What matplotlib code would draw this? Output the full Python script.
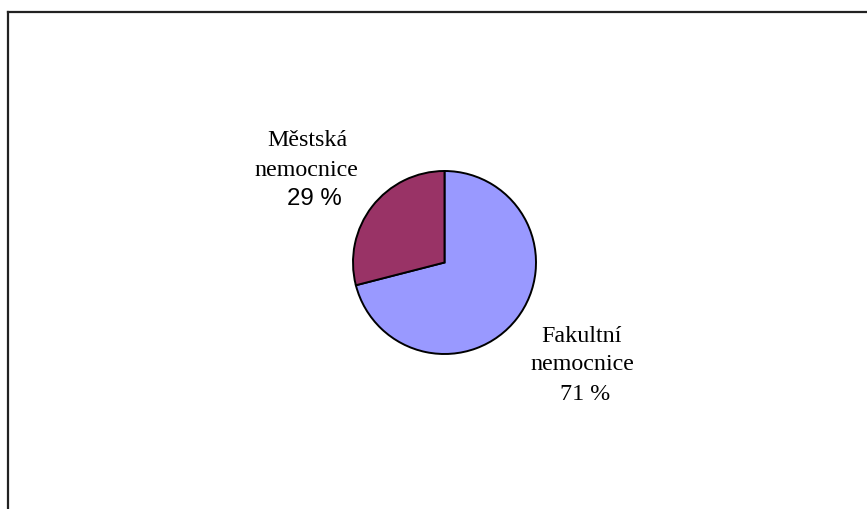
import matplotlib
matplotlib.use("Agg")
import matplotlib.pyplot as plt
from matplotlib.lines import Line2D

# data
categories = ["Fakultní nemocnice", "Městská nemocnice"]
values = [71, 29]
colors = ["#9999FF", "#993366"]

W, H = 867, 510
cx, cy, r = 444.5, 263.5, 91.5  # pie centre / radius in pixels


def px(x, y):
    return (x - cx) / r, (cy - y) / r


fig = plt.figure(figsize=(W / 100, H / 100), dpi=100)
ax = fig.add_axes([0, 0, 1, 1])
ax.axis("off")

ax.pie(values, colors=colors, startangle=90, counterclock=False, radius=1,
       wedgeprops=dict(edgecolor="black", linewidth=1.4))
ax.set_xlim(px(0, 0)[0], px(W, 0)[0])
ax.set_ylim(px(0, H)[1], px(0, 0)[1])
ax.set_aspect("auto")

serif = "Liberation Serif"
sans = "Liberation Sans"
fs = 17.3

# labels: name lines + percentage
lbl = [
    # (text, x_px, baseline_px, family)
    ("Městská", 307, 146, serif),
    ("nemocnice", 306, 176, serif),
    (f"{values[1]} %", 314, 205, sans),
    ("Fakultní", 582, 342, serif),
    ("nemocnice", 582, 370, serif),
    (f"{values[0]} %", 585, 400, serif),
]
for t, x, y, fam in lbl:
    xx, yy = px(x, y)
    ax.text(xx, yy, t, ha="center", va="baseline", fontsize=fs, family=fam)

# partial frame (top and left)
fig.add_artist(Line2D([8 / W, 8 / W], [1 - 13 / H, 0], transform=fig.transFigure,
                      color="#222222", linewidth=1.6))
fig.add_artist(Line2D([8 / W, 1], [1 - 13 / H, 1 - 13 / H], transform=fig.transFigure,
                      color="#222222", linewidth=1.6))

fig.savefig("out.png", dpi=100)
